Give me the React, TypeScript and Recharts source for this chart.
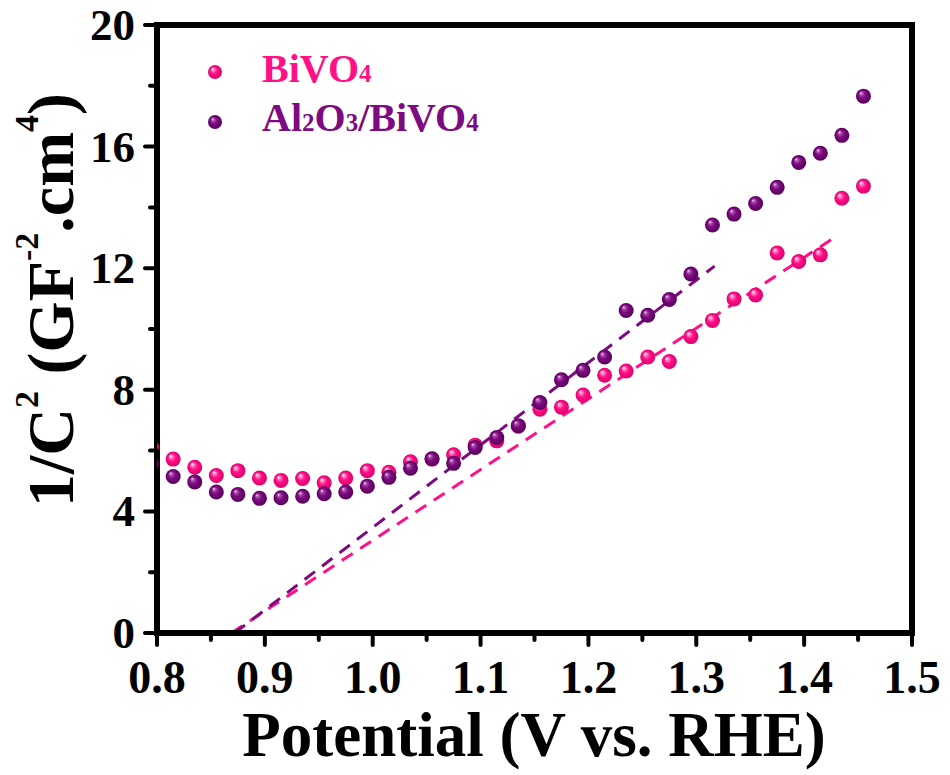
import { ScatterChart, Scatter, XAxis, YAxis, ReferenceLine, ReferenceArea, Legend, Label } from 'recharts';

document.body.style.margin = '0';

const FONT = '"Liberation Serif", "Times New Roman", serif';
const PINK = '#ff1088';
const PURPLE = '#7d0a80';

// potential (V vs. RHE)
const potential = [
  0.795, 0.815, 0.835, 0.855, 0.875, 0.895, 0.915, 0.935, 0.955, 0.975, 0.995, 1.015, 1.035, 1.055, 1.075, 1.095, 1.115,
  1.135, 1.155, 1.175, 1.195, 1.215, 1.235, 1.255, 1.275, 1.295, 1.315, 1.335, 1.355, 1.375, 1.395, 1.415, 1.435, 1.455,
];
const bivo4 = [
  6.1, 5.72, 5.45, 5.18, 5.34, 5.1, 5.02, 5.08, 4.94, 5.1, 5.34, 5.29, 5.63, 5.72, 5.86, 6.18, 6.32,
  6.8, 7.36, 7.43, 7.83, 8.48, 8.62, 9.08, 8.93, 9.75, 10.28, 10.99, 11.12, 12.5, 12.22, 12.44, 14.3, 14.7,
];
const al2o3Bivo4 = [
  5.57, 5.15, 4.97, 4.64, 4.56, 4.43, 4.45, 4.5, 4.58, 4.64, 4.83, 5.12, 5.42, 5.73, 5.58, 6.1, 6.43,
  6.82, 7.58, 8.33, 8.64, 9.08, 10.61, 10.45, 10.97, 11.81, 13.42, 13.78, 14.13, 14.66, 15.48, 15.78, 16.37, 17.66,
];

// linear fits (Mott-Schottky intercepts)
const bivo4Fit = [{ x: 0.869, y: 0 }, { x: 1.426, y: 12.96 }];
const al2o3Fit = [{ x: 0.872, y: 0 }, { x: 1.317, y: 12.07 }];

const xTicks = [0.8, 0.85, 0.9, 0.95, 1.0, 1.05, 1.1, 1.15, 1.2, 1.25, 1.3, 1.35, 1.4, 1.45, 1.5];
const yTicks = [0, 2, 4, 6, 8, 10, 12, 14, 16, 18, 20];

const pinkData = potential.map((x, i) => ({ x, y: bivo4[i] }));
const purpleData = potential.map((x, i) => ({ x, y: al2o3Bivo4[i] }));

function Gradients() {
  return (
    <defs>
      <radialGradient id="sphPink" cx="50%" cy="50%" r="50%" fx="32%" fy="28%">
        <stop offset="0%" stopColor="#ffffff" />
        <stop offset="22%" stopColor="#ff80c0" />
        <stop offset="50%" stopColor={PINK} />
        <stop offset="100%" stopColor="#dd006c" />
      </radialGradient>
      <radialGradient id="sphPurple" cx="50%" cy="50%" r="50%" fx="32%" fy="28%">
        <stop offset="0%" stopColor="#f4dcf4" />
        <stop offset="22%" stopColor="#a848a8" />
        <stop offset="50%" stopColor={PURPLE} />
        <stop offset="100%" stopColor="#56005a" />
      </radialGradient>
    </defs>
  );
}

const pinkBall = (props: any) => (
  <g>
    <Gradients />
    <circle cx={props.cx} cy={props.cy} r={7.5} fill="url(#sphPink)" />
  </g>
);
const purpleBall = (props: any) => (
  <g>
    <Gradients />
    <circle cx={props.cx} cy={props.cy} r={7.5} fill="url(#sphPurple)" />
  </g>
);

function XTick(props: any) {
  const { x, y, payload } = props;
  const v = payload.value;
  const major = Math.round(v * 100) % 10 === 0;
  return (
    <g>
      <line x1={x} y1={y} x2={x} y2={y + (major ? 12 : 7)} stroke="#000" strokeWidth={4} strokeLinecap="round" />
      {major && (
        <text x={x} y={y + 60} textAnchor="middle" fontFamily={FONT} fontWeight="bold" fontSize={46} fill="#000">
          {v.toFixed(1)}
        </text>
      )}
    </g>
  );
}

function YTick(props: any) {
  const { x, y, payload } = props;
  const v = payload.value;
  const major = v % 4 === 0;
  return (
    <g>
      <line x1={x} y1={y} x2={x - (major ? 12 : 7)} y2={y} stroke="#000" strokeWidth={4} strokeLinecap="round" />
      {major && (
        <text x={x - 22} y={y + 15} textAnchor="end" fontFamily={FONT} fontWeight="bold" fontSize={45} fill="#000">
          {v}
        </text>
      )}
    </g>
  );
}

function LegendBox() {
  return (
    <svg width={500} height={150} style={{ display: 'block' }}>
      <Gradients />
      <circle cx={215} cy={72} r={7} fill="url(#sphPink)" />
      <circle cx={215} cy={122} r={7} fill="url(#sphPurple)" />
      <text x={262} y={82} fontFamily={FONT} fontWeight="bold" fontSize={40} fill={PINK}>
        BiVO<tspan fontSize={25}>4</tspan>
      </text>
      <text x={262} y={131} fontFamily={FONT} fontWeight="bold" fontSize={40} fill={PURPLE}>
        Al<tspan fontSize={25}>2</tspan>O<tspan fontSize={25}>3</tspan>/BiVO<tspan fontSize={25}>4</tspan>
      </text>
    </svg>
  );
}

export default function App() {
  return (
    <ScatterChart width={950} height={775} margin={{ top: 25, right: 38, left: 0, bottom: 0 }}>
      <XAxis
        type="number"
        dataKey="x"
        domain={[0.8, 1.5]}
        ticks={xTicks}
        interval={0}
        allowDataOverflow
        height={142}
        axisLine={{ stroke: '#000', strokeWidth: 6 }}
        tickLine={false}
        tickSize={0}
        tickMargin={0}
        tick={<XTick />}
      >
        <Label
          content={() => (
            <text x={534} y={756} textAnchor="middle" fontFamily={FONT} fontWeight="bold" fontSize={63} fill="#000">
              Potential (V vs. RHE)
            </text>
          )}
        />
      </XAxis>
      <YAxis
        type="number"
        dataKey="y"
        domain={[0, 20]}
        ticks={yTicks}
        interval={0}
        width={157}
        axisLine={{ stroke: '#000', strokeWidth: 6 }}
        tickLine={false}
        tickSize={0}
        tickMargin={0}
        tick={<YTick />}
      >
        <Label
          content={() => (
            <text
              x={73}
              y={300}
              transform="rotate(-90, 73, 300)"
              textAnchor="middle"
              fontFamily={FONT}
              fontWeight="bold"
              fontSize={66}
              fill="#000"
            >
              1/C<tspan fontSize={34} dy={-35}>2</tspan>
              <tspan dy={35}> (GF</tspan>
              <tspan fontSize={34} dy={-35}>-2</tspan>
              <tspan dy={35}>.cm</tspan>
              <tspan fontSize={34} dy={-35}>4</tspan>
              <tspan dy={35}>)</tspan>
            </text>
          )}
        />
      </YAxis>
      <ReferenceArea x1={0.8} x2={1.5} y1={0} y2={20} fill="none" stroke="#000" strokeWidth={6} ifOverflow="visible" />
      <Scatter name="BiVO4" data={pinkData} shape={pinkBall} isAnimationActive={false} />
      <Scatter name="Al2O3/BiVO4" data={purpleData} shape={purpleBall} isAnimationActive={false} />
      <ReferenceLine segment={bivo4Fit} stroke={PINK} strokeWidth={3} strokeDasharray="13 9" ifOverflow="visible" />
      <ReferenceLine segment={al2o3Fit} stroke={PURPLE} strokeWidth={3} strokeDasharray="13 9" ifOverflow="visible" />
      <Legend
        layout="horizontal"
        verticalAlign="middle"
        align="center"
        content={() => <LegendBox />}
        wrapperStyle={{ top: 0, left: 0, width: 500, height: 150 }}
      />
    </ScatterChart>
  );
}
